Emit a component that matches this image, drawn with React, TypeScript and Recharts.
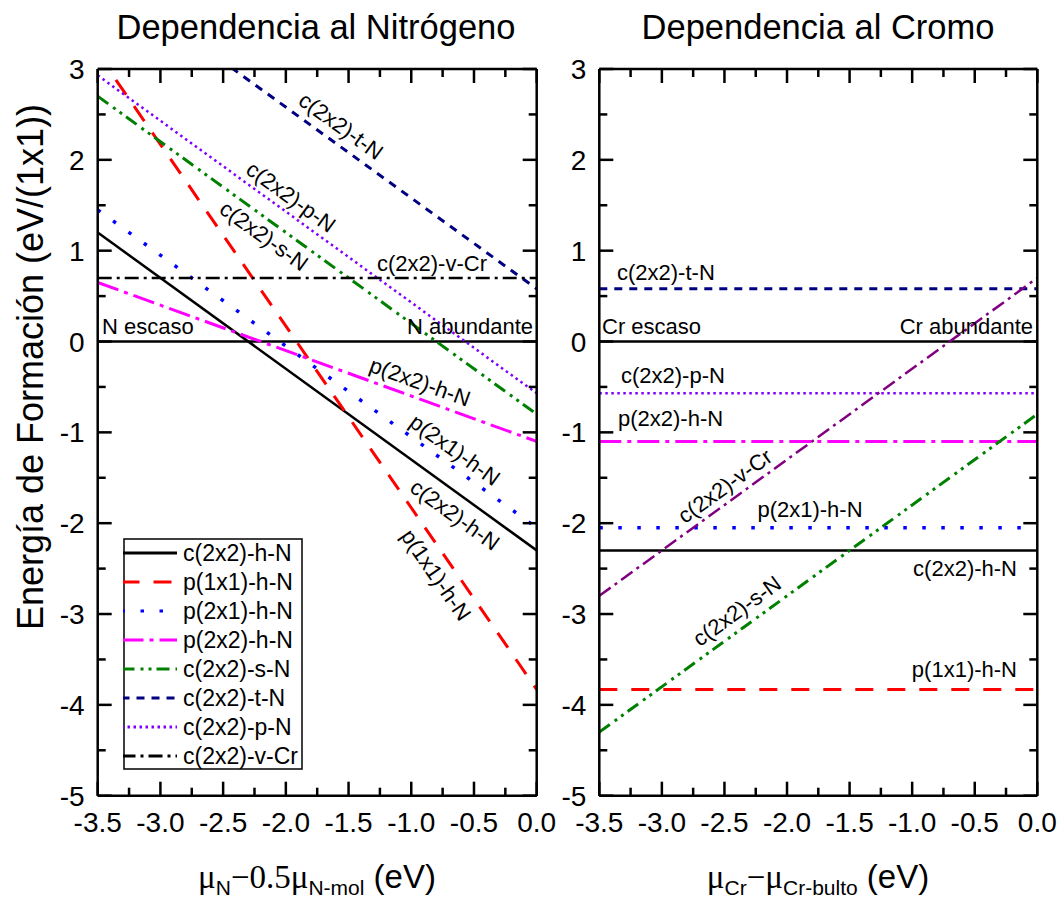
import React from 'react';
import { LineChart, Line, XAxis, YAxis, ReferenceLine, Legend } from 'recharts';

// ---------- data (values read at x = -3.5 and x = 0.0) ----------
const X_POINTS = [-3.5, 0.0];

// Left panel: dependence on nitrogen chemical potential
const N_c2x2_hN = [1.2, -2.3];
const N_p1x1_hN = [3.17, -3.83];
const N_p2x1_hN = [1.45, -2.05];
const N_p2x2_hN = [0.65, -1.1];
const N_c2x2_sN = [2.7, -0.8];
const N_c2x2_tN = [4.08, 0.58];
const N_c2x2_pN = [2.93, -0.57];
const N_c2x2_vCr = [0.7, 0.7];

// Right panel: dependence on chromium chemical potential
const Cr_c2x2_hN = [-2.3, -2.3];
const Cr_p1x1_hN = [-3.83, -3.83];
const Cr_p2x1_hN = [-2.05, -2.05];
const Cr_p2x2_hN = [-1.1, -1.1];
const Cr_c2x2_sN = [-4.3, -0.8];
const Cr_c2x2_tN = [0.58, 0.58];
const Cr_c2x2_pN = [-0.57, -0.57];
const Cr_c2x2_vCr = [-2.8, 0.7];

const X_TICKS = [-3.5, -3.25, -3.0, -2.75, -2.5, -2.25, -2.0, -1.75, -1.5, -1.25, -1.0, -0.75, -0.5, -0.25, 0.0];
const Y_TICKS = [-5, -4.5, -4, -3.5, -3, -2.5, -2, -1.5, -1, -0.5, 0, 0.5, 1, 1.5, 2, 2.5, 3];

const SERIES_KEYS = ['hN', 'p1x1', 'p2x1', 'p2x2', 'sN', 'tN', 'pN', 'vCr'];
const SERIES_NAMES = ['c(2x2)-h-N', 'p(1x1)-h-N', 'p(2x1)-h-N', 'p(2x2)-h-N', 'c(2x2)-s-N', 'c(2x2)-t-N', 'c(2x2)-p-N', 'c(2x2)-v-Cr'];

// ---------- styles ----------
const STYLE: Record<string, { color: string; dash?: string; width: number }> = {
  hN: { color: '#000000', width: 2.5 },
  p1x1: { color: '#FF0000', dash: '18 14', width: 3 },
  p2x1: { color: '#0000FF', dash: '3.5 15.5', width: 3.5 },
  p2x2: { color: '#FF00FF', dash: '22 6 4 6', width: 3 },
  sN: { color: '#008000', dash: '13 6 3 5 3 5', width: 3 },
  tN: { color: '#000080', dash: '8 7', width: 3 },
  pN: { color: '#8000FF', dash: '2.5 3.5', width: 2.5 },
  vCr: { color: '#000000', dash: '14 5 3 5', width: 2.5 },
};
const VCR_RIGHT = { color: '#800080', dash: '14 5 3 5', width: 2.5 };

const FONT = '"Liberation Sans", Arial, sans-serif';
const SERIF = '"Liberation Serif", "Times New Roman", serif';

const build = (arrs: number[][]) =>
  X_POINTS.map((x, i) => {
    const row: any = { x };
    SERIES_KEYS.forEach((k, j) => (row[k] = arrs[j][i]));
    return row;
  });

const leftData = build([N_c2x2_hN, N_p1x1_hN, N_p2x1_hN, N_p2x2_hN, N_c2x2_sN, N_c2x2_tN, N_c2x2_pN, N_c2x2_vCr]);
const rightData = build([Cr_c2x2_hN, Cr_p1x1_hN, Cr_p2x1_hN, Cr_p2x2_hN, Cr_c2x2_sN, Cr_c2x2_tN, Cr_c2x2_pN, Cr_c2x2_vCr]);

const isMajorX = (v: number) => Math.abs(v * 2 - Math.round(v * 2)) < 1e-6;
const isMajorY = (v: number) => Math.abs(v - Math.round(v)) < 1e-6;
const MAJ = 14;
const MIN = 8;
const TW = 2.5;

const BottomTick = (props: any) => {
  const { x, y, payload } = props;
  const v = payload.value;
  const major = isMajorX(v);
  return (
    <g>
      <line x1={x} x2={x} y1={y} y2={y - (major ? MAJ : MIN)} stroke="#000" strokeWidth={TW} />
      {major && (
        <text x={x} y={y + 36} textAnchor="middle" fontSize={28} fontFamily={FONT} fill="#000">
          {v.toFixed(1)}
        </text>
      )}
    </g>
  );
};

const TopTick = (props: any) => {
  const { x, y, payload } = props;
  const major = isMajorX(payload.value);
  return <line x1={x} x2={x} y1={y} y2={y + (major ? MAJ : MIN)} stroke="#000" strokeWidth={TW} />;
};

const LeftTick = (props: any) => {
  const { x, y, payload } = props;
  const v = payload.value;
  const major = isMajorY(v);
  return (
    <g>
      <line x1={x} x2={x + (major ? MAJ : MIN)} y1={y} y2={y} stroke="#000" strokeWidth={TW} />
      {major && (
        <text x={x - 13} y={y + 10} textAnchor="end" fontSize={28} fontFamily={FONT} fill="#000">
          {String(v)}
        </text>
      )}
    </g>
  );
};

const RightTick = (props: any) => {
  const { x, y, payload } = props;
  const major = isMajorY(payload.value);
  return <line x1={x} x2={x - (major ? MAJ : MIN)} y1={y} y2={y} stroke="#000" strokeWidth={TW} />;
};

const LegendBox = () => (
  <svg width={180} height={232} style={{ display: 'block' }}>
    <rect x={1} y={1} width={178} height={230} fill="#fff" stroke="#000" strokeWidth={1.5} />
    {SERIES_KEYS.map((k, i) => {
      const s = STYLE[k];
      const cy = 15 + i * 29;
      return (
        <g key={k}>
          <line x1={-1.5} x2={54} y1={cy} y2={cy} stroke={s.color} strokeWidth={3} strokeDasharray={s.dash} />
          <text x={60} y={cy + 8} fontSize={23} fontFamily={FONT} fill="#000">
            {SERIES_NAMES[i]}
          </text>
        </g>
      );
    })}
  </svg>
);

const axisLineStyle = { stroke: '#000', strokeWidth: TW };

function Panel({ data, marginLeft, marginRight, right, legend }: any) {
  return (
    <LineChart
      width={1060}
      height={907}
      data={data}
      margin={{ top: 68, bottom: 71.3, left: marginLeft, right: marginRight }}
    >
      <XAxis
        dataKey="x"
        type="number"
        domain={[-3.5, 0]}
        ticks={X_TICKS}
        interval={0}
        allowDataOverflow
        height={40}
        tickSize={0}
        tickMargin={0}
        tick={<BottomTick />}
        axisLine={axisLineStyle}
        tickLine={false}
      />
      <XAxis
        xAxisId="top"
        orientation="top"
        dataKey="x"
        type="number"
        domain={[-3.5, 0]}
        ticks={X_TICKS}
        interval={0}
        allowDataOverflow
        height={1}
        tickSize={0}
        tickMargin={0}
        tick={<TopTick />}
        axisLine={axisLineStyle}
        tickLine={false}
      />
      <YAxis
        type="number"
        domain={[-5, 3]}
        ticks={Y_TICKS}
        interval={0}
        allowDataOverflow
        width={60}
        tickSize={0}
        tickMargin={0}
        tick={<LeftTick />}
        axisLine={axisLineStyle}
        tickLine={false}
      />
      <YAxis
        yAxisId="right"
        orientation="right"
        type="number"
        domain={[-5, 3]}
        ticks={Y_TICKS}
        interval={0}
        allowDataOverflow
        width={1}
        tickSize={0}
        tickMargin={0}
        tick={<RightTick />}
        axisLine={axisLineStyle}
        tickLine={false}
      />
      <ReferenceLine y={0} stroke="#000" strokeWidth={2.5} />
      {SERIES_KEYS.map((k, i) => {
        const s = right && k === 'vCr' ? VCR_RIGHT : STYLE[k];
        return (
          <Line
            key={k}
            dataKey={k}
            name={SERIES_NAMES[i]}
            type="linear"
            stroke={s.color}
            strokeWidth={s.width}
            strokeDasharray={s.dash}
            dot={false}
            activeDot={false}
            isAnimationActive={false}
          />
        );
      })}
      {legend && (
        <Legend
          layout="vertical"
          align="center"
          verticalAlign="middle"
          content={() => <LegendBox />}
          wrapperStyle={{ position: 'absolute', left: 123, top: 538, width: 180, height: 232 }}
        />
      )}
    </LineChart>
  );
}

const Lbl = ({ x, y, a, anchor, children }: any) => (
  <text
    x={x}
    y={y}
    fontSize={22}
    fontFamily={FONT}
    fill="#000"
    textAnchor={anchor || 'middle'}
    dominantBaseline={a !== undefined ? 'central' : undefined}
    transform={a !== undefined ? `rotate(${a} ${x} ${y})` : undefined}
  >
    {children}
  </text>
);

export default function App() {
  return (
    <div style={{ position: 'absolute', left: 0, top: 0, width: 1060, height: 907, background: '#fff', fontFamily: FONT }}>
      <div style={{ position: 'absolute', left: 0, top: 0 }}>
        <Panel data={leftData} marginLeft={37.7} marginRight={522.3} right={false} legend />
      </div>
      <div style={{ position: 'absolute', left: 0, top: 0 }}>
        <Panel data={rightData} marginLeft={539.3} marginRight={21.7} right legend={false} />
      </div>
      <svg
        width={1060}
        height={907}
        style={{ position: 'absolute', left: 0, top: 0, pointerEvents: 'none' }}
      >
        {/* titles */}
        <text x={316} y={39} textAnchor="middle" fontSize={34.5} fontFamily={FONT} fill="#000">
          Dependencia al Nitrógeno
        </text>
        <text x={818} y={39} textAnchor="middle" fontSize={34.5} fontFamily={FONT} fill="#000">
          Dependencia al Cromo
        </text>
        {/* y axis title */}
        <text
          x={30}
          y={367}
          textAnchor="middle"
          dominantBaseline="central"
          fontSize={36}
          fontFamily={FONT}
          fill="#000"
          transform="rotate(-90 30 367)"
        >
          Energía de Formación (eV/(1x1))
        </text>
        {/* x axis titles */}
        <text x={317} y={888} textAnchor="middle" fontSize={33} fontFamily={FONT} fill="#000">
          <tspan fontFamily={SERIF}>μ</tspan>
          <tspan fontSize={21} dy={7}>N</tspan>
          <tspan fontFamily={SERIF} dy={-7}>−0.5μ</tspan>
          <tspan fontSize={21} dy={7}>N-mol</tspan>
          <tspan dy={-7}> (eV)</tspan>
        </text>
        <text x={818} y={888} textAnchor="middle" fontSize={33} fontFamily={FONT} fill="#000">
          <tspan fontFamily={SERIF}>μ</tspan>
          <tspan fontSize={21} dy={7}>Cr</tspan>
          <tspan fontFamily={SERIF} dy={-7}>−μ</tspan>
          <tspan fontSize={21} dy={7}>Cr-bulto</tspan>
          <tspan dy={-7}> (eV)</tspan>
        </text>

        {/* left panel annotations */}
        <Lbl x={341} y={126} a={35.9}>c(2x2)-t-N</Lbl>
        <Lbl x={291} y={197} a={35.9}>c(2x2)-p-N</Lbl>
        <Lbl x={264} y={236} a={35.9}>c(2x2)-s-N</Lbl>
        <Lbl x={432} y={271}>c(2x2)-v-Cr</Lbl>
        <Lbl x={102} y={334} anchor="start">N escaso</Lbl>
        <Lbl x={533} y={334} anchor="end">N abundante</Lbl>
        <Lbl x={420} y={382} a={19.9}>p(2x2)-h-N</Lbl>
        <Lbl x={455} y={450} a={35.9}>p(2x1)-h-N</Lbl>
        <Lbl x={455} y={515} a={35.9}>c(2x2)-h-N</Lbl>
        <Lbl x={436} y={575} a={55.4}>p(1x1)-h-N</Lbl>

        {/* right panel annotations */}
        <Lbl x={617} y={280} anchor="start">c(2x2)-t-N</Lbl>
        <Lbl x={602} y={334} anchor="start">Cr escaso</Lbl>
        <Lbl x={1033} y={334} anchor="end">Cr abundante</Lbl>
        <Lbl x={621} y={383} anchor="start">c(2x2)-p-N</Lbl>
        <Lbl x={618} y={426} anchor="start">p(2x2)-h-N</Lbl>
        <Lbl x={725} y={486} a={-35.9}>c(2x2)-v-Cr</Lbl>
        <Lbl x={810} y={517}>p(2x1)-h-N</Lbl>
        <Lbl x={1017} y={576} anchor="end">c(2x2)-h-N</Lbl>
        <Lbl x={737} y={611} a={-35.9}>c(2x2)-s-N</Lbl>
        <Lbl x={1017} y={677} anchor="end">p(1x1)-h-N</Lbl>
      </svg>
    </div>
  );
}
